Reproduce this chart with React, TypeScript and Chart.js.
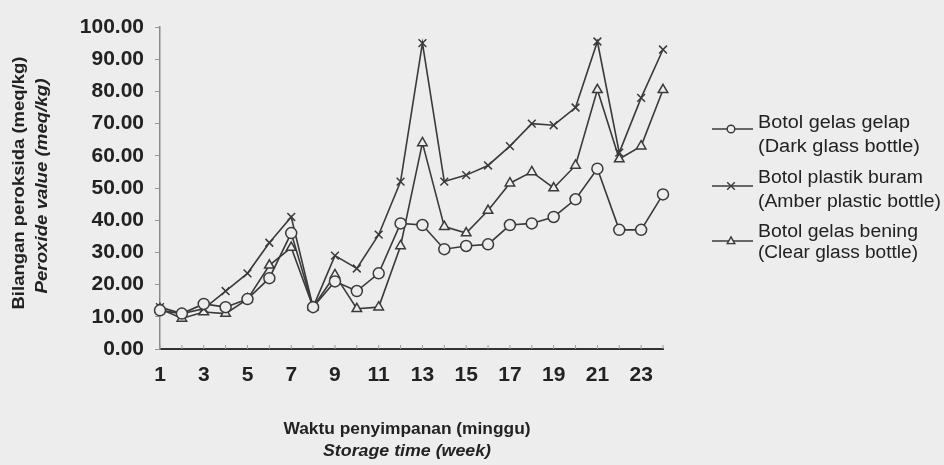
import React, { useEffect, useRef } from "react";
import { Chart, registerables } from "chart.js";

Chart.register(...registerables);

const weeks = ["1","2","3","4","5","6","7","8","9","10","11","12","13","14","15","16","17","18","19","20","21","22","23","24"];
const darkGlass = [12, 11, 14, 13, 15.5, 22, 36, 13, 21, 18, 23.5, 39, 38.5, 31, 32, 32.5, 38.5, 39, 41, 46.5, 56, 37, 37, 48];
const amberPlastic = [13, 11, 12.5, 18, 23.5, 33, 41, 13, 29, 25, 35.5, 52, 95, 52, 54, 57, 63, 70, 69.5, 75, 95.5, 61, 78, 93];
const clearGlass = [12.5, 9.5, 11.5, 11, 15.5, 26, 31.5, 13, 23, 12.5, 13, 32, 64, 38, 36, 43, 51.5, 55, 50, 57, 80.5, 59, 63, 80.5];

const seriesNames = [
  ["Botol gelas gelap", "(Dark glass bottle)"],
  ["Botol plastik buram", "(Amber plastic bottle)"],
  ["Botol gelas bening", "(Clear glass bottle)"],
];
const yTitle1 = "Bilangan peroksida (meq/kg)";
const yTitle2 = "Peroxide value (meq/kg)";
const xTitle1 = "Waktu penyimpanan (minggu)";
const xTitle2 = "Storage time (week)";

const BG = "#ededed";
const INK = "#3a3a3a";
const TXT = "#222222";
const FONT = "'Liberation Sans', Arial, sans-serif";

function fitText(ctx: CanvasRenderingContext2D, text: string, x: number, y: number, w: number) {
  const m = ctx.measureText(text).width;
  ctx.save();
  ctx.translate(x, y);
  ctx.scale(w / m, 1);
  ctx.fillText(text, 0, 0);
  ctx.restore();
}

const decorPlugin = {
  id: "decor",
  afterDraw(chart: any) {
    const ctx: CanvasRenderingContext2D = chart.ctx;
    ctx.save();
    ctx.fillStyle = TXT;
    ctx.textBaseline = "middle";
    // y title
    ctx.save();
    ctx.translate(20, 183);
    ctx.rotate(-Math.PI / 2);
    ctx.textAlign = "center";
    ctx.font = `bold 16px ${FONT}`;
    fitText(ctx, yTitle1, 0, 0, 253);
    ctx.restore();
    ctx.save();
    ctx.translate(43, 186);
    ctx.rotate(-Math.PI / 2);
    ctx.textAlign = "center";
    ctx.font = `italic bold 16px ${FONT}`;
    fitText(ctx, yTitle2, 0, 0, 215);
    ctx.restore();
    // x title
    ctx.textAlign = "center";
    ctx.font = `bold 16px ${FONT}`;
    fitText(ctx, xTitle1, 407, 430, 247);
    ctx.font = `italic bold 16px ${FONT}`;
    fitText(ctx, xTitle2, 407, 452, 168);

    // x tick marks (inside)
    const xs = chart.scales.x;
    const yb = chart.chartArea.bottom;
    ctx.strokeStyle = "#9a9a9a";
    ctx.lineWidth = 1;
    for (let i = 0; i < weeks.length; i++) {
      const px = xs.getPixelForValue(i);
      ctx.beginPath();
      ctx.moveTo(px, yb - 4);
      ctx.lineTo(px, yb);
      ctx.stroke();
    }

    // legend
    const rows = [
      { t: 123, b: 147, line: 129, w1: 152, w2: 162, style: "circle" },
      { t: 178, b: 202, line: 186, w1: 165, w2: 183, style: "crossRot" },
      { t: 232, b: 253, line: 241, w1: 160, w2: 160, style: "triangle" },
    ];
    ctx.textAlign = "left";
    ctx.font = `18px ${FONT}`;
    rows.forEach((r, i) => {
      ctx.strokeStyle = INK;
      ctx.lineWidth = 1.6;
      ctx.beginPath();
      ctx.moveTo(712, r.line);
      ctx.lineTo(753, r.line);
      ctx.stroke();
      ctx.fillStyle = BG;
      ctx.lineWidth = 1.4;
      (Chart as any).helpers?.drawPoint
        ? null
        : null;
      drawMarker(ctx, r.style, 731, r.line, 3.8);
      ctx.fillStyle = TXT;
      fitText(ctx, seriesNames[i][0], 758, r.t, r.w1);
      fitText(ctx, seriesNames[i][1], 758, r.b, r.w2);
    });
    ctx.restore();
  },
};

function drawMarker(ctx: CanvasRenderingContext2D, style: string, x: number, y: number, r: number) {
  ctx.beginPath();
  if (style === "circle") {
    ctx.arc(x, y, r, 0, Math.PI * 2);
    ctx.fill();
    ctx.stroke();
  } else if (style === "triangle") {
    ctx.moveTo(x, y - r * 1.1);
    ctx.lineTo(x + r, y + r * 0.7);
    ctx.lineTo(x - r, y + r * 0.7);
    ctx.closePath();
    ctx.fill();
    ctx.stroke();
  } else {
    ctx.moveTo(x - r, y - r);
    ctx.lineTo(x + r, y + r);
    ctx.moveTo(x + r, y - r);
    ctx.lineTo(x - r, y + r);
    ctx.stroke();
  }
}

export default function App() {
  const ref = useRef<HTMLCanvasElement | null>(null);
  useEffect(() => {
    if (!ref.current) return;
    const mk = (label: string, data: number[], style: string) => ({
      label,
      data,
      borderColor: INK,
      borderWidth: 1.6,
      pointStyle: style,
      pointRadius: 5.5,
      pointBorderWidth: 1.5,
      pointBorderColor: INK,
      pointBackgroundColor: BG,
      tension: 0,
      fill: false,
    });
    const chart = new Chart(ref.current, {
      type: "line",
      data: {
        labels: weeks,
        datasets: [
          mk(seriesNames[0][0], darkGlass, "circle"),
          mk(seriesNames[1][0], amberPlastic, "crossRot"),
          mk(seriesNames[2][0], clearGlass, "triangle"),
        ],
      },
      options: {
        animation: false,
        responsive: false,
        devicePixelRatio: 1,
        layout: { padding: { left: 0, right: 281, top: 27, bottom: 0 } },
        plugins: { legend: { display: false }, tooltip: { enabled: false } },
        scales: {
          x: {
            type: "category",
            offset: false,
            grid: { display: false, drawTicks: true, tickLength: 4 },
            border: { display: true, color: "#333", width: 2 },
            ticks: {
              autoSkip: false,
              maxRotation: 0,
              padding: 10,
              color: TXT,
              font: { family: FONT, size: 21, weight: "bold" },
              callback: (v: any, i: number) => (i % 2 === 0 ? weeks[i] : ""),
            },
            afterFit: (s: any) => {
              s.height = 116;
            },
          },
          y: {
            min: 0,
            max: 100,
            grid: { display: true, drawOnChartArea: false, tickLength: 5, color: "#9a9a9a" },
            border: { display: true, color: "#8a8a8a", width: 1.5 },
            ticks: {
              stepSize: 10,
              padding: 11,
              color: TXT,
              font: { family: FONT, size: 21, weight: "bold" },
              callback: (v: any) => Number(v).toFixed(2),
            },
            afterFit: (s: any) => {
              s.width = 160;
            },
          },
        },
      },
      plugins: [decorPlugin],
    } as any);
    return () => chart.destroy();
  }, []);
  return (
    <div style={{ position: "fixed", left: 0, top: 0, width: 944, height: 465, background: BG }}>
      <canvas ref={ref} width={944} height={465} style={{ display: "block", width: 944, height: 465 }} />
    </div>
  );
}
